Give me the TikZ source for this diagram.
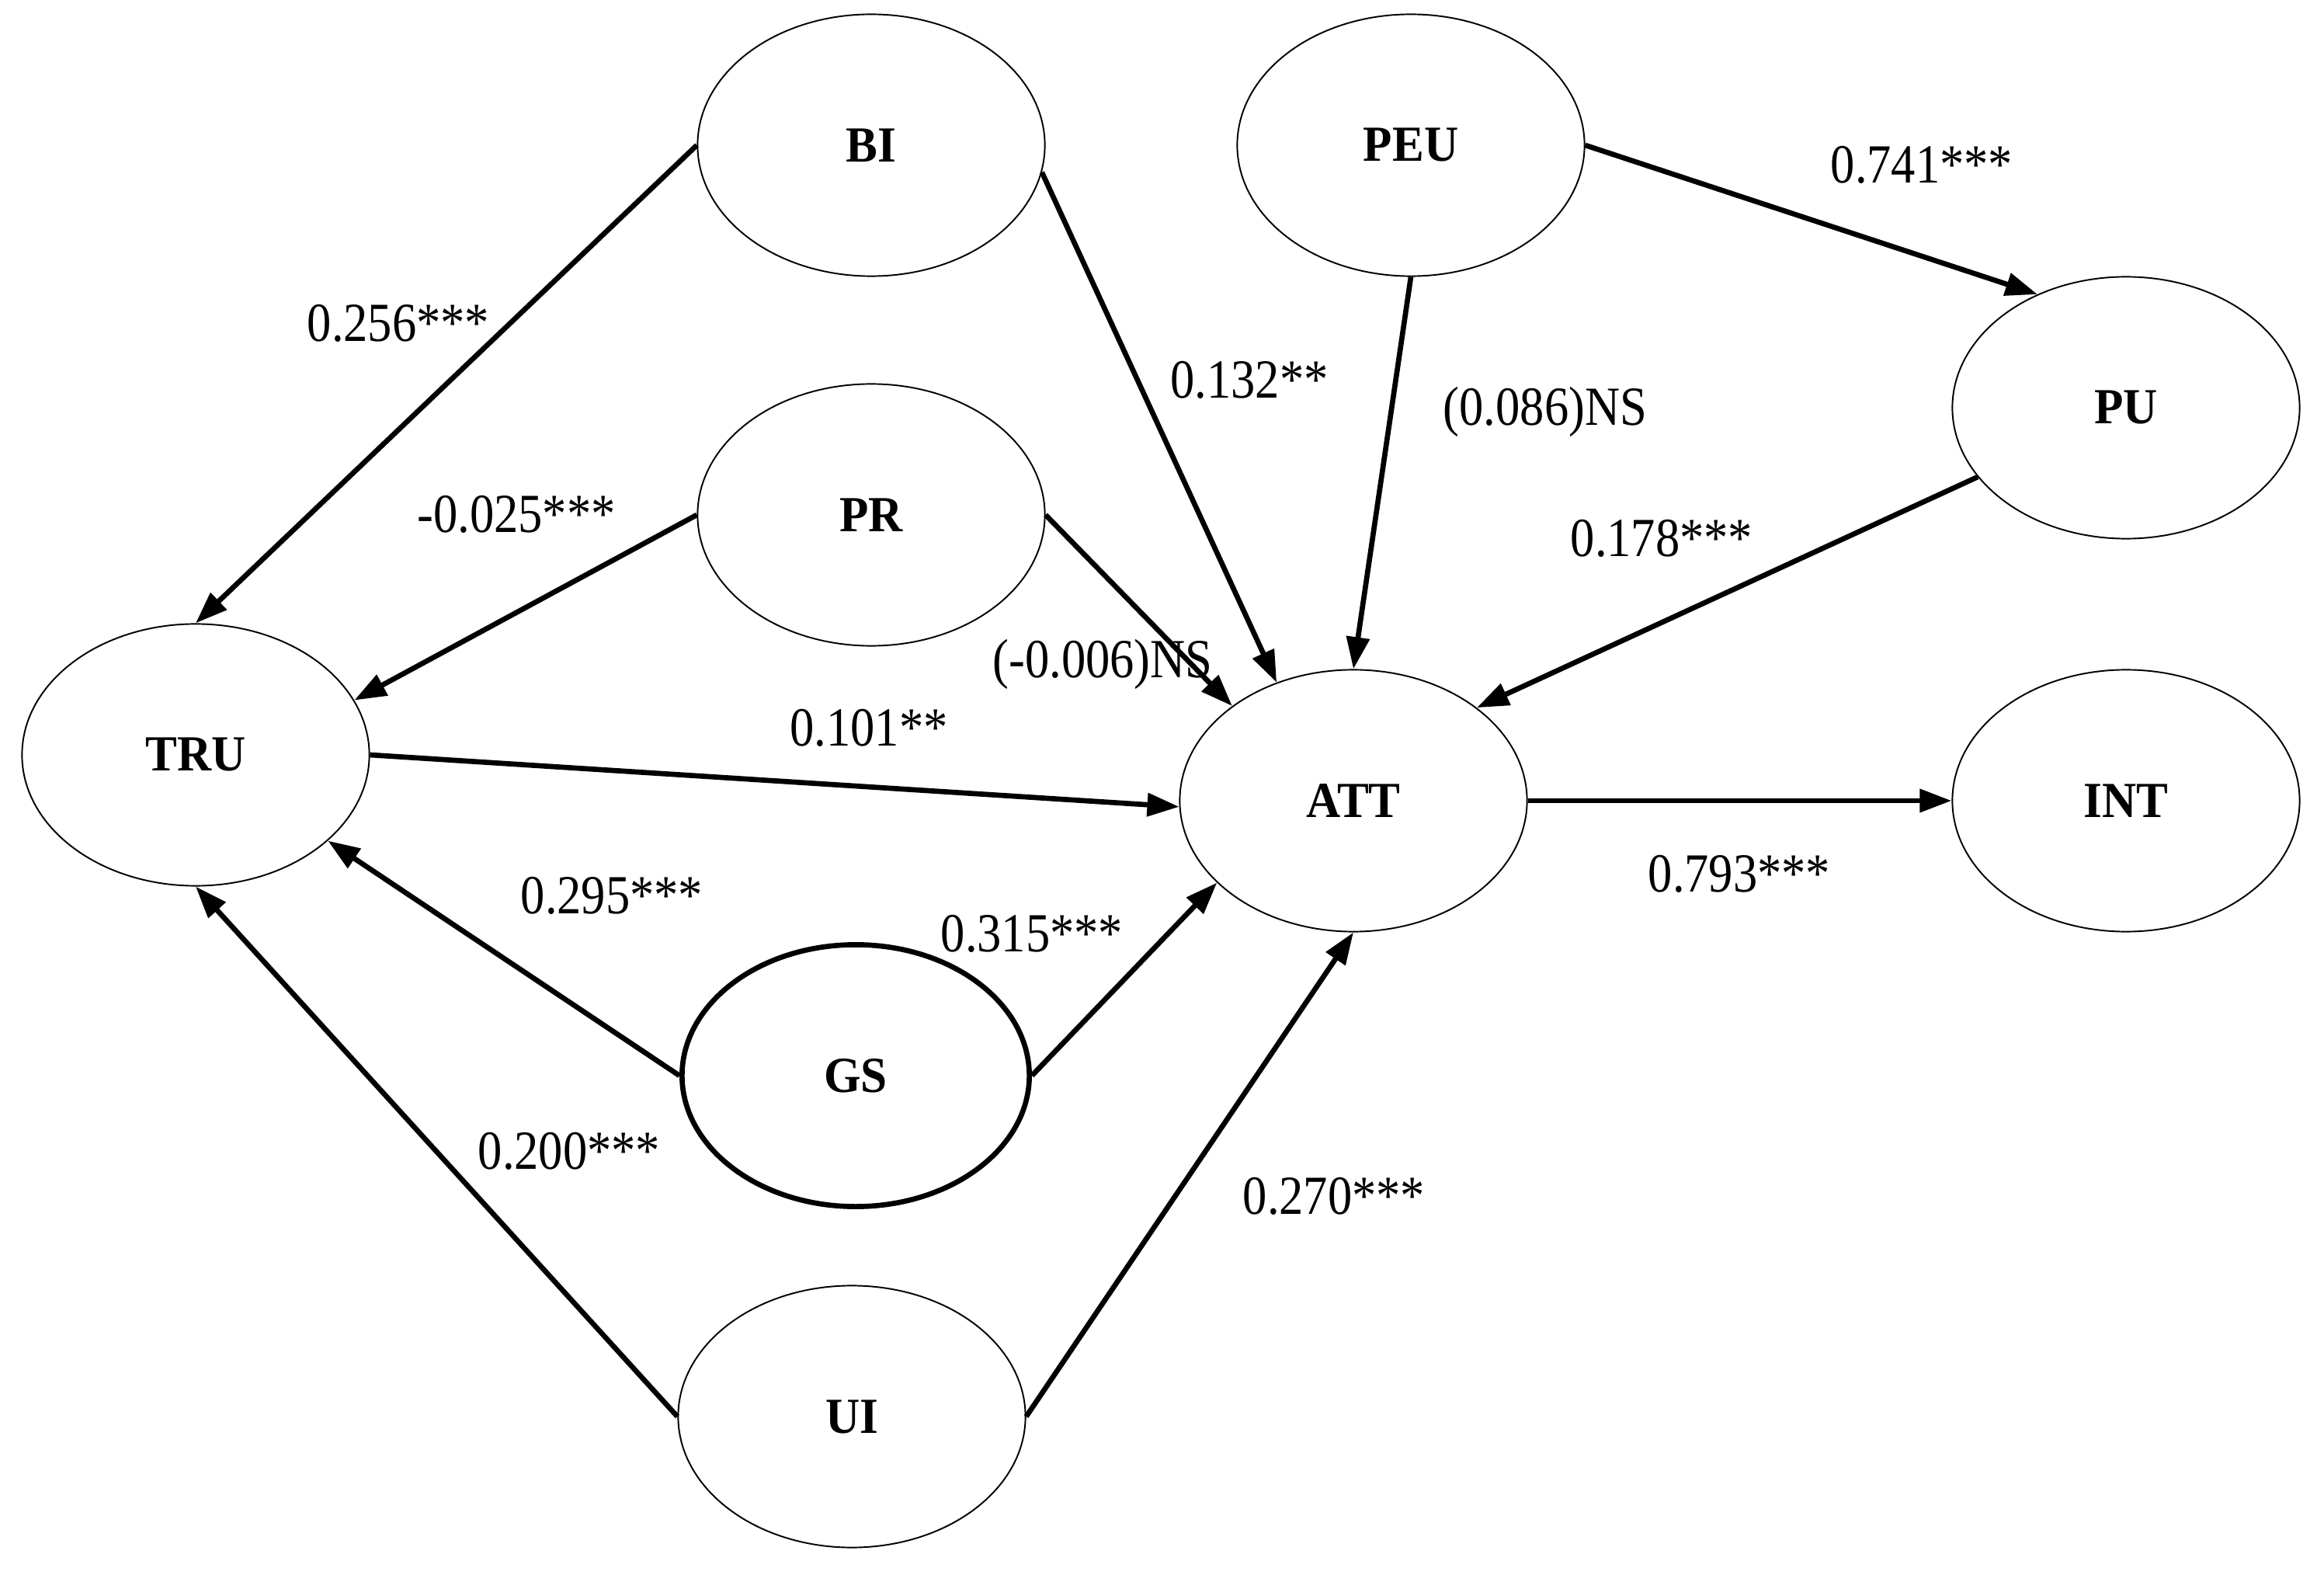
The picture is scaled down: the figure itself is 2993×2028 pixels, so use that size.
\documentclass[tikz,border=0pt]{standalone}
\usepackage{fontspec}
\setmainfont{Liberation Serif}[FakeStretch=0.94]
\newfontfamily\lblfont{Liberation Serif}[FakeStretch=0.88]
\usetikzlibrary{arrows.meta,shapes.geometric}
\begin{document}
\begin{tikzpicture}[x=0.01cm,y=-0.01cm,
  lv/.style={ellipse,draw,line width=0.55pt,minimum width=4.47cm,minimum height=3.37cm,inner sep=0pt,
    font=\fontsize{18.5}{20}\selectfont\bfseries},
  thick lv/.style={lv,line width=1.9pt},
  path/.style={line width=1.9pt,-{Triangle[length=11.7pt,width=8.3pt]}},
  lbl/.style={anchor=base,inner sep=0pt,font=\lblfont\fontsize{20.2}{22}\selectfont}]
\useasboundingbox (0,0) rectangle (2993,2028);
% nodes
\node[lv] (BI) at (1122,187) {BI};
\node[lv] (PR) at (1122,663) {PR};
\node[lv] (TRU) at (252,972) {TRU};
\node[lv] (PEU) at (1817,187) {PEU};
\node[lv] (PU) at (2738,525) {PU};
\node[lv] (ATT) at (1743,1031) {ATT};
\node[lv] (INT) at (2738,1031) {INT};
\node[thick lv] (GS) at (1102,1385) {GS};
\node[lv] (UI) at (1097,1824) {UI};
% connectors
\draw[path] (BI.west) -- (TRU.north);
\draw[path] (BI.-9.4) -- (ATT.123.3);
\draw[path] (PR.west) -- (TRU.19.8);
\draw[path] (PR.east) -- (ATT.142);
\draw[path] (TRU.east) -- (ATT.182);
\draw[path] (PEU.south) -- (ATT.north);
\draw[path] (PEU.east) -- (PU.128);
\draw[path] (PU.205.8) -- (ATT.37.8);
\draw[path] (ATT.east) -- (INT.west);
\draw[path] (GS.west) -- (TRU.-33);
\draw[path] (GS.east) -- (ATT.211.6);
\draw[path] (UI.west) -- (TRU.south);
\draw[path] (UI.east) -- (ATT.south);
% labels
\node[lbl] (l1) at (513,440) {0.256***};
\node[lbl] (l2) at (665,686) {-0.025***};
\node[lbl] (l3) at (1420,873) {(-0.006)NS};
\node[lbl] (l4) at (1119,960) {0.101**};
\node[lbl] (l5) at (2475,236) {0.741***};
\node[lbl] (l6) at (1609,513) {0.132**};
\node[lbl] (l7) at (1990,548) {(0.086)NS};
\node[lbl] (l8) at (2140,717) {0.178***};
\node[lbl] (l9) at (788,1176) {0.295***};
\node[lbl] (l10) at (1329,1225) {0.315***};
\node[lbl] (l11) at (733,1505) {0.200***};
\node[lbl] (l12) at (2240,1148) {0.793***};
\node[lbl] (l13) at (1718,1563) {0.270***};
\end{tikzpicture}
\end{document}
